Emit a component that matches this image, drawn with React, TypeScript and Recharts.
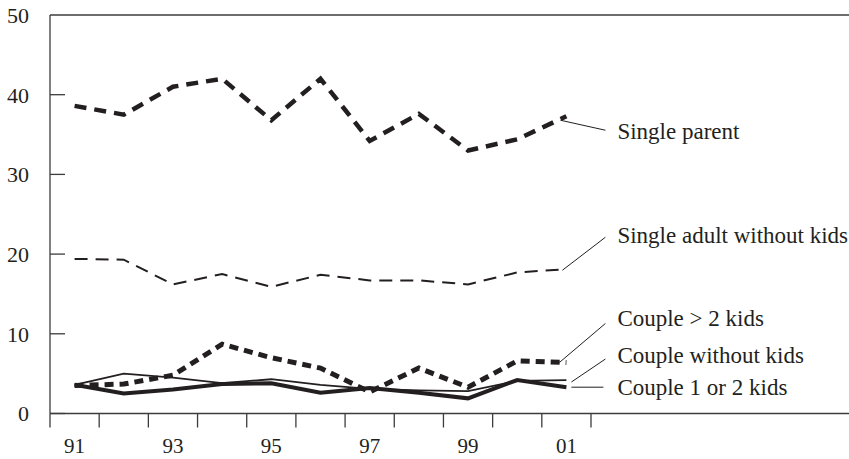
import React from 'react'
import { LineChart, Line, XAxis, YAxis, ReferenceLine, LabelList } from 'recharts'

const years = ['91', '92', '93', '94', '95', '96', '97', '98', '99', '00', '01']
const singleParent = [38.6, 37.5, 41.0, 42.0, 36.8, 42.0, 34.2, 37.6, 33.0, 34.4, 37.3]
const singleAdult = [19.4, 19.3, 16.2, 17.5, 15.9, 17.4, 16.7, 16.7, 16.2, 17.7, 18.1]
const coupleMore = [3.5, 3.7, 4.8, 8.7, 7.0, 5.7, 2.7, 5.7, 3.3, 6.6, 6.4]
const coupleNoKids = [3.6, 5.0, 4.5, 3.8, 4.3, 3.6, 3.1, 2.9, 2.8, 4.1, 4.2]
const coupleOneTwo = [3.6, 2.5, 3.0, 3.7, 3.8, 2.6, 3.2, 2.6, 1.9, 4.2, 3.3]

const yTicks = [0, 10, 20, 30, 40, 50]
const bandEdges = [-0.5, 0.5, 1.5, 2.5, 3.5, 4.5, 5.5, 6.5, 7.5, 8.5, 9.5, 10.5]
const labelIdx = [0, 2, 4, 6, 8, 10]

const data = years.map((year, i) => ({
  i,
  year,
  sp: singleParent[i],
  sa: singleAdult[i],
  cm: coupleMore[i],
  cn: coupleNoKids[i],
  c12: coupleOneTwo[i],
}))

const INK = '#231f20'
const AXIS = '#3c3c3c'
const FONT = '"Liberation Serif", "Times New Roman", serif'

// leader line start/end and text baseline, relative to the last point of each line
const notes: Record<string, { text: string; s: [number, number]; e: [number, number]; t: number }> = {
  sp: { text: 'Single parent', s: [-6, 4], e: [39, 14], t: 23 },
  sa: { text: 'Single adult without kids', s: [-4, 1], e: [39, -32], t: -26 },
  cm: { text: 'Couple > 2 kids', s: [-7, 0], e: [39, -39], t: -36 },
  cn: { text: 'Couple without kids', s: [5, 2], e: [39, -21], t: -17 },
  c12: { text: 'Couple 1 or 2 kids', s: [5, 0], e: [37, 0], t: 8 },
}

const EndNote = (props: any) => {
  const { index, noteKey } = props
  if (index !== years.length - 1) return null
  const x = props.x ?? props.viewBox?.x
  const y = props.y ?? props.viewBox?.y
  const n = notes[noteKey]
  return (
    <g>
      <line x1={x + n.s[0]} y1={y + n.s[1]} x2={x + n.e[0]} y2={y + n.e[1]} stroke={INK} strokeWidth={1} />
      <text x={x + 51} y={y + n.t} fill={INK} fontSize={23} fontFamily={FONT}>
        {n.text}
      </text>
    </g>
  )
}

const YTick = (props: any) => {
  const { x, y, payload } = props
  return (
    <g>
      {payload.value !== 50 && (
        <line x1={x + 21} y1={y} x2={x + 36} y2={y} stroke={AXIS} strokeWidth={1.3} />
      )}
      <text x={x} y={y} dy="0.355em" textAnchor="end" fill={INK} fontSize={22} fontFamily={FONT}>
        {payload.value}
      </text>
    </g>
  )
}

const NoLabel = () => <g />

const App = () => {
  return (
    <div style={{ position: 'absolute', left: 0, top: 0, background: '#fff' }}>
      <LineChart width={849} height={459} data={data} margin={{ top: 15, right: 0, left: 0, bottom: 0 }}>
        <XAxis
          xAxisId="edges"
          dataKey="i"
          type="number"
          domain={[-0.5, 15.746]}
          allowDataOverflow
          ticks={bandEdges}
          interval={0}
          tick={<NoLabel />}
          tickSize={14}
          height={14}
          axisLine={{ stroke: AXIS, strokeWidth: 1.3 }}
          tickLine={{ stroke: AXIS, strokeWidth: 1.3 }}
        />
        <XAxis
          xAxisId="years"
          dataKey="i"
          type="number"
          domain={[-0.5, 15.746]}
          allowDataOverflow
          ticks={labelIdx}
          interval={0}
          tickFormatter={(v: number) => years[v]}
          tickSize={8}
          tickMargin={3}
          height={31.5}
          axisLine={false}
          tickLine={false}
          tick={{ fill: INK, fontSize: 21, fontFamily: FONT }}
        />
        <YAxis
          type="number"
          domain={[0, 50]}
          ticks={yTicks}
          interval={0}
          width={50}
          tickSize={21}
          tickMargin={0}
          tickLine={false}
          axisLine={{ stroke: AXIS, strokeWidth: 1.3 }}
          tick={<YTick />}
        />
        <ReferenceLine xAxisId="edges" y={50} stroke={AXIS} strokeWidth={1.3} />

        <Line xAxisId="edges" dataKey="sp" stroke={INK} strokeWidth={4.5} strokeDasharray="12 8" dot={false} isAnimationActive={false}>
          <LabelList content={(p: any) => <EndNote {...p} noteKey="sp" />} />
        </Line>
        <Line xAxisId="edges" dataKey="sa" stroke={INK} strokeWidth={2} strokeDasharray="13 8" dot={false} isAnimationActive={false}>
          <LabelList content={(p: any) => <EndNote {...p} noteKey="sa" />} />
        </Line>
        <Line xAxisId="edges" dataKey="cm" stroke={INK} strokeWidth={5} strokeDasharray="9 6" dot={false} isAnimationActive={false}>
          <LabelList content={(p: any) => <EndNote {...p} noteKey="cm" />} />
        </Line>
        <Line xAxisId="edges" dataKey="cn" stroke={INK} strokeWidth={1.8} dot={false} isAnimationActive={false}>
          <LabelList content={(p: any) => <EndNote {...p} noteKey="cn" />} />
        </Line>
        <Line xAxisId="edges" dataKey="c12" stroke={INK} strokeWidth={4} dot={false} isAnimationActive={false}>
          <LabelList content={(p: any) => <EndNote {...p} noteKey="c12" />} />
        </Line>
      </LineChart>
    </div>
  )
}

export default App
